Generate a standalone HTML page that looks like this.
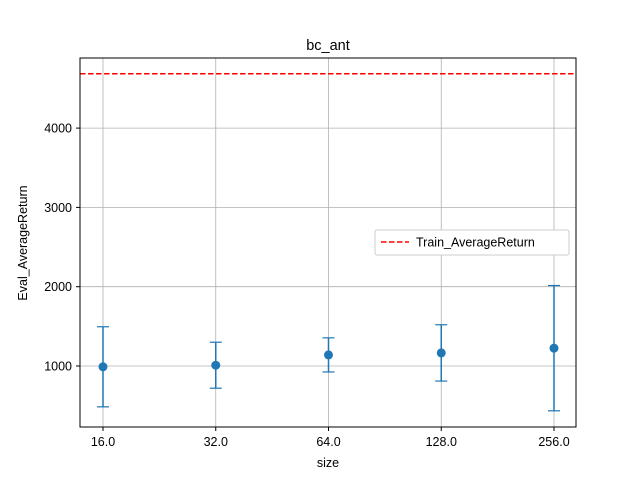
<!DOCTYPE html>
<html><head><meta charset="utf-8"><style>
body{margin:0;background:#fff;}
svg{display:block;font-family:"Liberation Sans","DejaVu Sans",sans-serif;}
</style></head><body>
<svg id="chart" width="640" height="480">
<rect width="640" height="480" fill="#fff"/>
<text x="328" y="50" font-size="14.5" text-anchor="middle">bc_ant</text>
<g id="grid"></g>
<g id="marks"></g>
<rect x="80" y="58" width="496" height="369" fill="none" stroke="#000" stroke-width="1"/>
<g id="axes"></g>
<text x="328" y="467" font-size="12.5" text-anchor="middle">size</text>
<text transform="translate(27,243) rotate(-90)" font-size="12.5" text-anchor="middle">Eval_AverageReturn</text>
<g>
<rect x="375" y="230" width="194" height="25" fill="#fff" stroke="#ccc" rx="2"/>
<line x1="381" y1="242" x2="409" y2="242" stroke="red" stroke-width="1.5" stroke-dasharray="5.5,2.5"/>
<text x="416" y="246.5" font-size="12.5">Train_AverageReturn</text>
</g>
</svg>
<script>
const categories=["16.0","32.0","64.0","128.0","256.0"];
const means=[990,1010,1140,1165,1225];
const errors=[505,290,215,355,790];
const trainReturn=4685;
const yTicks=[1000,2000,3000,4000];
const NS="http://www.w3.org/2000/svg";
function x(i){return 103+i*112.75;}
function y(v){return 366-(v-1000)*0.0793;}
function mk(tag,attrs,parent){const e=document.createElementNS(NS,tag);for(const k in attrs)e.setAttribute(k,attrs[k]);document.getElementById(parent).appendChild(e);return e;}
yTicks.forEach(t=>{
 let g=mk('line',{x1:80,x2:576,y1:y(t),y2:y(t),stroke:'#b0b0b0','stroke-width':0.8},'grid');
 
 
 mk('line',{x1:76,x2:80,y1:y(t),y2:y(t),stroke:'#000'},'axes');
 let l=mk('text',{x:72,y:y(t)+4.5,'font-size':12.5,'text-anchor':'end'},'axes');
 l.textContent=t;
 
 
});
categories.forEach((c,i)=>{
 let g=mk('line',{x1:x(i),x2:x(i),y1:58,y2:427,stroke:'#b0b0b0','stroke-width':0.8},'grid');
 
 
 mk('line',{x1:x(i),x2:x(i),y1:427,y2:431,stroke:'#000'},'axes');
 let l=mk('text',{x:x(i),y:446,'font-size':12.5,'text-anchor':'middle'},'axes');
 l.textContent=c;
 
 
 const col='#1f77b4';
 let eb=mk('line',{x1:x(i),x2:x(i),y1:y(means[i]+errors[i]),y2:y(means[i]-errors[i]),stroke:col,'stroke-width':1.5},'marks');
 
 
 [means[i]+errors[i],means[i]-errors[i]].forEach(v=>{
  let cap=mk('line',{x1:x(i)-6,x2:x(i)+6,y1:y(v),y2:y(v),stroke:col,'stroke-width':1.2},'marks');
  
  
 });
 let p=mk('circle',{cx:x(i),cy:y(means[i]),r:4.5,fill:col},'marks');
 
 
});
let tl=mk('line',{x1:80,x2:576,y1:y(trainReturn),y2:y(trainReturn),stroke:'red','stroke-width':1.5,'stroke-dasharray':'5.5,2.5'},'marks');


</script>
</body></html>
